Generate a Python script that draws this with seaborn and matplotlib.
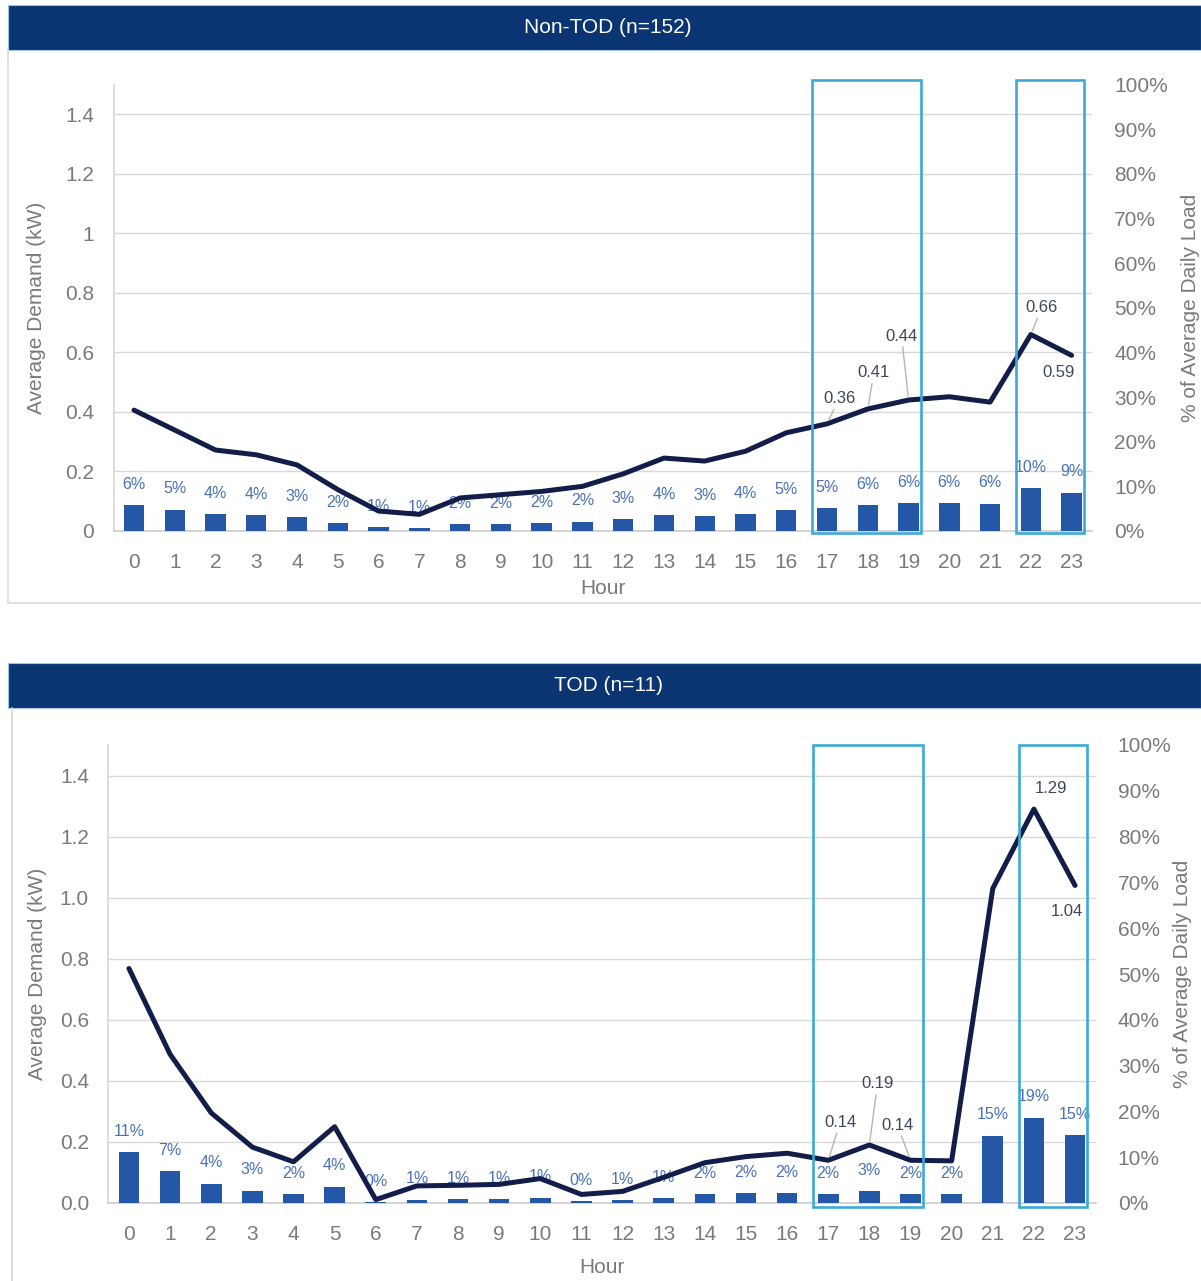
import matplotlib
matplotlib.use("Agg")
import matplotlib.pyplot as plt
from matplotlib.patches import Rectangle
from matplotlib.lines import Line2D
from matplotlib.ticker import FuncFormatter
import pandas as pd
import seaborn as sns

# ---- data -------------------------------------------------------------
hours = list(range(24))

# Non-TOD customers: average hourly demand (kW) and share of daily load (%)
nontod_kw = [0.406, 0.339, 0.272, 0.256, 0.222, 0.139, 0.067, 0.056, 0.111, 0.122,
             0.133, 0.150, 0.192, 0.245, 0.235, 0.268, 0.330, 0.36, 0.41, 0.44,
             0.451, 0.433, 0.66, 0.59]
nontod_pct = [5.8, 4.8, 3.8, 3.6, 3.1, 1.8, 0.9, 0.7, 1.6, 1.6, 1.7, 2.1, 2.6, 3.6,
              3.3, 3.8, 4.7, 5.1, 5.8, 6.2, 6.3, 6.1, 9.6, 8.6]

# TOD customers
tod_kw = [0.768, 0.487, 0.295, 0.183, 0.135, 0.250, 0.011, 0.056, 0.058, 0.061,
          0.080, 0.028, 0.038, 0.084, 0.132, 0.152, 0.163, 0.14, 0.19, 0.14,
          0.138, 1.030, 1.29, 1.04]
tod_pct = [11.1, 7.0, 4.2, 2.7, 2.0, 3.6, 0.2, 0.7, 0.9, 0.9, 1.2, 0.4, 0.6, 1.1,
           1.9, 2.1, 2.2, 1.9, 2.6, 1.9, 1.9, 14.7, 18.6, 14.8]

panel_titles = ["Non-TOD (n=152)", "TOD (n=11)"]
highlight_hours = [(17, 19), (22, 23)]

# ---- style ------------------------------------------------------------
sns.set_theme(style="white")
plt.rcParams["font.family"] = ["Liberation Sans", "DejaVu Sans"]

NAVY = "#0a3572"
LINE = "#121d4a"
BAR = "#2457a6"
BAR_TXT = "#4a72b8"
VAL_TXT = "#3f4658"
TICK = "#7a7a7a"
GRID = "#d9d9d9"
BOX = "#3daad6"

W, H = 1201, 1281
fig = plt.figure(figsize=(W / 100, H / 100), dpi=100)


def px_rect(x0, y0, x1, y1):
    """Convert a pixel box (top-left origin) to figure fractions."""
    return [x0 / W, 1 - y1 / H, (x1 - x0) / W, (y1 - y0) / H]


def header(y0, y1, text):
    fig.patches.append(Rectangle((8 / W, 1 - y1 / H), (W - 8) / W, (y1 - y0) / H,
                                 transform=fig.transFigure, facecolor=NAVY,
                                 edgecolor="#9fc3e6", linewidth=0.8))
    fig.text(608 / W, 1 - (y0 + y1) / 2 / H, text, color="white", fontsize=15,
             ha="center", va="center",
             family=["Liberation Sans Narrow", "Liberation Sans", "DejaVu Sans"])


def frame_line(xs, ys):
    fig.add_artist(Line2D([x / W for x in xs], [1 - y / H for y in ys],
                          transform=fig.transFigure, color=GRID, linewidth=1.2))


def panel(box, kw, pct, kw_fmt, labels, box_y, ylab_x, rlab_x, hour_y):
    ax = fig.add_axes(px_rect(*box))
    ax_bar = ax.twinx()
    ax_line = ax.twinx()

    df = pd.DataFrame({"hour": hours, "kw": kw, "pct": pct})

    # share of daily load as bars (right axis)
    sns.barplot(data=df, x="hour", y="pct", ax=ax_bar, color=BAR, width=0.5,
                saturation=1, errorbar=None, linewidth=0)
    for i, p in enumerate(pct):
        ax_bar.annotate(f"{p:.0f}%", (i, p), xytext=(0, 15),
                        textcoords="offset points", ha="center", va="center",
                        fontsize=11.5, color=BAR_TXT)

    # average demand as a line (left axis)
    sns.lineplot(data=df, x="hour", y="kw", ax=ax_line, color=LINE, linewidth=3.6)
    for h, (dx, dy, leader) in labels.items():
        props = dict(arrowstyle="-", color="#b5b5b5", lw=1, shrinkA=0, shrinkB=3) if leader else None
        ax_line.annotate(f"{kw[h]:.2f}", (h, kw[h]), xytext=(dx * 0.72, -dy * 0.72),
                         textcoords="offset points", ha="center", va="center",
                         fontsize=12, color=VAL_TXT, arrowprops=props,
                         annotation_clip=False)

    # highlighted hour windows
    for a, b in highlight_hours:
        ax_line.add_patch(Rectangle((a - 0.36, box_y[0]), (b - a) + 0.66,
                                    box_y[1] - box_y[0], fill=False,
                                    edgecolor=BOX, linewidth=1.9, clip_on=False,
                                    zorder=5))

    for a in (ax, ax_bar, ax_line):
        a.set_xlim(-0.5, 23.5)
        for s in ("top", "right"):
            a.spines[s].set_visible(False)
    ax.set_ylim(0, 1.5)
    ax_line.set_ylim(0, 1.5)
    ax_bar.set_ylim(0, 100)

    ax_line.yaxis.set_visible(False)
    ax_line.set_xlabel("")
    ax_line.set_ylabel("")
    ax_bar.set_xlabel("")
    for s in ("left", "bottom"):
        ax_line.spines[s].set_visible(False)
        ax_bar.spines[s].set_visible(False)

    # left axis
    ax.set_yticks([0, 0.2, 0.4, 0.6, 0.8, 1.0, 1.2, 1.4])
    ax.yaxis.set_major_formatter(FuncFormatter(kw_fmt))
    ax.grid(axis="y", color=GRID, linewidth=1)
    ax.grid(axis="x", visible=False)
    ax.spines["left"].set_color(GRID)
    ax.spines["bottom"].set_color("#cfcfcf")
    ax.set_xticks(hours)
    ax.set_xticklabels([str(h) for h in hours])
    ax.tick_params(axis="both", length=0, labelsize=15, labelcolor=TICK)
    ax.tick_params(axis="y", pad=14)
    ax.tick_params(axis="x", pad=16)
    ax.set_ylabel("Average Demand (kW)", fontsize=15, color=TICK)
    ax.yaxis.set_label_coords(ylab_x, 0.5)
    ax.set_xlabel("Hour", fontsize=15, color=TICK)
    ax.xaxis.set_label_coords(0.5, hour_y)

    # right axis
    ax_bar.set_yticks(range(0, 101, 10))
    ax_bar.yaxis.set_major_formatter(FuncFormatter(lambda v, _: f"{v:.0f}%"))
    ax_bar.tick_params(axis="y", length=0, labelsize=15, labelcolor=TICK, pad=16)
    ax_bar.set_ylabel("% of Average Daily Load", fontsize=15, color=TICK)
    ax_bar.yaxis.set_label_coords(rlab_x, 0.5)
    ax_bar.grid(False)
    ax_line.grid(False)


# ---- top panel ----------------------------------------------------------
header(5, 50, panel_titles[0])
frame_line([8, 8, W], [50, 603, 603])
panel((113.6, 84.5, 1092, 531), nontod_kw, nontod_pct, lambda v, _: f"{v:g}",
      {17: (12, -25, True), 18: (6, -36, True), 19: (-7, -64, True),
       22: (11, -27, True), 23: (-13, 17, False)},
      (-0.008, 1.515), -0.069, 1.091, -0.107)

# ---- bottom panel -------------------------------------------------------
header(663, 708, panel_titles[1])
frame_line([12, 12], [708, H])
panel((108.4, 745, 1095.6, 1203), tod_kw, tod_pct, lambda v, _: f"{v:.1f}",
      {17: (12, -38, True), 18: (8, -61, True), 19: (-13, -35, True),
       22: (17, -21, False), 23: (-8, 26, False)},
      (-0.013, 1.5), -0.062, 1.078, -0.12)

fig.savefig("out.png", dpi=100, facecolor="white")
